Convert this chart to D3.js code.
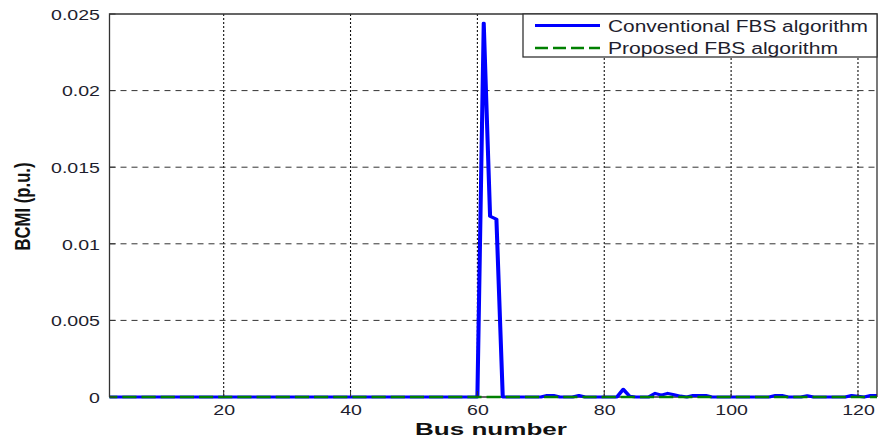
<!DOCTYPE html>
<html>
<head>
<meta charset="utf-8">
<script src="https://cdn.jsdelivr.net/npm/d3@7"></script>
<style>
  body { margin: 0; background: #fff; }
  svg { display: block; }
</style>
</head>
<body>
<script>
// BCMI per bus, buses 1..123
const conventional = [
  0, 0, 0, 0, 0, 0, 0, 0, 0, 0,
  0, 0, 0, 0, 0, 0, 0, 0, 0, 0,
  0, 0, 0, 0, 0, 0, 0, 0, 0, 0,
  0, 0, 0, 0, 0, 0, 0, 0, 0, 0,
  0, 0, 0, 0, 0, 0, 0, 0, 0, 0,
  0, 0, 0, 0, 0, 0, 0, 0, 0, 0,
  0.0244, 0.0118, 0.0116, 0, 0, 0, 0, 0, 0, 0,
  0.0001, 0.0001, 0, 0, 0, 0.0001, 0, 0, 0, 0,
  0, 0, 0.0005, 0.00005, 0, 0, 0, 0.00024, 0.00012, 0.00024,
  0.00015, 0.00006, 0, 0.0001, 0.0001, 0.0001, 0, 0, 0, 0,
  0, 0, 0, 0, 0, 0, 0.0001, 0.0001, 0, 0,
  0, 0.00008, 0, 0, 0, 0, 0, 0, 0.0001, 0.00005,
  0, 0.0001, 0.0001
];
const proposed = [
  0, 0, 0, 0, 0, 0, 0, 0, 0, 0,
  0, 0, 0, 0, 0, 0, 0, 0, 0, 0,
  0, 0, 0, 0, 0, 0, 0, 0, 0, 0,
  0, 0, 0, 0, 0, 0, 0, 0, 0, 0,
  0, 0, 0, 0, 0, 0, 0, 0, 0, 0,
  0, 0, 0, 0, 0, 0, 0, 0, 0, 0,
  0, 0, 0, 0, 0, 0, 0, 0, 0, 0,
  0, 0, 0, 0, 0, 0, 0, 0, 0, 0,
  0, 0, 0, 0, 0, 0, 0, 0, 0, 0,
  0, 0, 0, 0, 0, 0, 0, 0, 0, 0,
  0, 0, 0, 0, 0, 0, 0, 0, 0, 0,
  0, 0, 0, 0, 0, 0, 0, 0, 0, 0,
  0, 0, 0
];
const xTicks = [20, 40, 60, 80, 100, 120];
const yTicks = [0, 0.005, 0.01, 0.015, 0.02, 0.025];
const yTickLabels = ["0", "0.005", "0.01", "0.015", "0.02", "0.025"];
const seriesNames = ["Conventional FBS algorithm", "Proposed FBS algorithm"];

const W = 881, H = 446;
const plot = { left: 109.5, right: 877, top: 14, bottom: 397 };
const FONT = "'Liberation Sans', Arial, Helvetica, sans-serif";
const SX = 1.35; // horizontal stretch of the whole figure

const svg = d3.select("body").append("svg").attr("width", W).attr("height", H);

const x = d3.scaleLinear().domain([2, 123]).range([plot.left, plot.right]);
const y = d3.scaleLinear().domain([0, 0.025]).range([plot.bottom, plot.top]);
// same mapping expressed in the horizontally stretched frame
const xs = d3.scaleLinear().domain(x.domain()).range(x.range().map(v => v / SX));

svg.append("defs").append("clipPath").attr("id", "clip")
  .append("rect").attr("x", plot.left / SX).attr("y", plot.top - 5)
  .attr("width", (plot.right - plot.left) / SX).attr("height", plot.bottom - plot.top + 10);

// grid
const grid = svg.append("g");
grid.selectAll("line.v").data(xTicks).join("line")
  .attr("x1", d => x(d)).attr("x2", d => x(d))
  .attr("y1", plot.top).attr("y2", plot.bottom)
  .attr("stroke", "#111").attr("stroke-width", 1.1).attr("stroke-dasharray", "2,2");
grid.selectAll("line.h").data(yTicks.filter(d => d > 0 && d < 0.025)).join("line")
  .attr("x1", plot.left).attr("x2", plot.right)
  .attr("y1", d => y(d)).attr("y2", d => y(d))
  .attr("stroke", "#333").attr("stroke-width", 1).attr("stroke-dasharray", "6,5");

// series, drawn in the stretched frame so near-vertical strokes widen
const line = d3.line().x((d, i) => xs(i + 1)).y(d => y(d));
const lines = svg.append("g").attr("transform", `scale(${SX},1)`).attr("clip-path", "url(#clip)");
lines.append("path").datum(conventional)
  .attr("d", line).attr("fill", "none")
  .attr("stroke", "#0000ff").attr("stroke-width", 3).attr("stroke-linejoin", "round");
lines.append("path").datum(proposed)
  .attr("d", line).attr("fill", "none")
  .attr("stroke", "#008000").attr("stroke-width", 2.4).attr("stroke-dasharray", "10.5,3.7");

// axes
const xAxis = svg.append("g").attr("transform", `translate(0,${plot.bottom})`)
  .call(d3.axisBottom(x).tickValues(xTicks).tickSize(0).tickPadding(0));
xAxis.select(".domain").remove();
xAxis.selectAll("text")
  .attr("y", 18).attr("dy", 0)
  .attr("transform", `scale(${SX},1)`)
  .attr("font-family", FONT).attr("font-size", 14.5).attr("fill", "#1e1e2e");

const yAxis = svg.append("g").attr("transform", `translate(${plot.left},0)`)
  .call(d3.axisLeft(y).tickValues(yTicks).tickSize(0)
    .tickFormat((d, i) => yTickLabels[i]));
yAxis.select(".domain").remove();
yAxis.selectAll("text")
  .attr("x", 0).attr("dy", "0.36em")
  .attr("transform", `translate(-9.5,0) scale(${SX},1)`)
  .attr("font-family", FONT).attr("font-size", 14.5).attr("fill", "#1e1e2e");

// inward ticks
const ticks = svg.append("g").attr("stroke", "#333").attr("stroke-width", 1);
ticks.selectAll("line.xt").data(xTicks).join("line")
  .attr("x1", d => x(d)).attr("x2", d => x(d))
  .attr("y1", plot.bottom).attr("y2", plot.bottom - 6);
ticks.selectAll("line.yt").data(yTicks).join("line")
  .attr("x1", plot.left).attr("x2", plot.left + 6)
  .attr("y1", d => y(d)).attr("y2", d => y(d));

// box (bottom edge stays under the zero line)
svg.append("path")
  .attr("d", `M${plot.left},${plot.bottom}V${plot.top}H${plot.right}V${plot.bottom}`)
  .attr("fill", "none").attr("stroke", "#333").attr("stroke-width", 1.3);
svg.insert("line", "g")
  .attr("x1", plot.left).attr("x2", plot.right).attr("y1", plot.bottom).attr("y2", plot.bottom)
  .attr("stroke", "#333").attr("stroke-width", 1.3);

// axis titles
svg.append("text")
  .attr("transform", `translate(491,435)`)
  .attr("text-anchor", "middle")
  .attr("font-family", FONT).attr("font-weight", "bold").attr("font-size", 17)
  .attr("textLength", 152).attr("lengthAdjust", "spacingAndGlyphs")
  .attr("fill", "#111").text("Bus number");

svg.append("text")
  .attr("transform", `translate(30,206.5) scale(1.4,1) rotate(-90)`)
  .attr("text-anchor", "middle")
  .attr("font-family", FONT).attr("font-weight", "bold").attr("font-size", 15.5)
  .attr("textLength", 88).attr("lengthAdjust", "spacingAndGlyphs")
  .attr("fill", "#111").text("BCMI (p.u.)");

// legend
const lg = svg.append("g");
lg.append("rect").attr("x", 523).attr("y", plot.top).attr("width", plot.right - 523).attr("height", 43)
  .attr("fill", "#fff").attr("stroke", "#333").attr("stroke-width", 1.3);
const rows = [
  { name: seriesNames[0], color: "#0000ff", w: 3, dash: null, cy: 25.5, tl: 260 },
  { name: seriesNames[1], color: "#008000", w: 2.4, dash: "13,5", cy: 48, tl: 230 }
];
rows.forEach(r => {
  lg.append("line").attr("x1", 535).attr("x2", 600).attr("y1", r.cy).attr("y2", r.cy)
    .attr("stroke", r.color).attr("stroke-width", r.w)
    .attr("stroke-dasharray", r.dash);
  lg.append("text").attr("x", 608).attr("y", r.cy + 6)
    .attr("font-family", FONT).attr("font-size", 16)
    .attr("textLength", r.tl).attr("lengthAdjust", "spacingAndGlyphs")
    .attr("fill", "#1e1e2e").text(r.name);
});
</script>
</body>
</html>
